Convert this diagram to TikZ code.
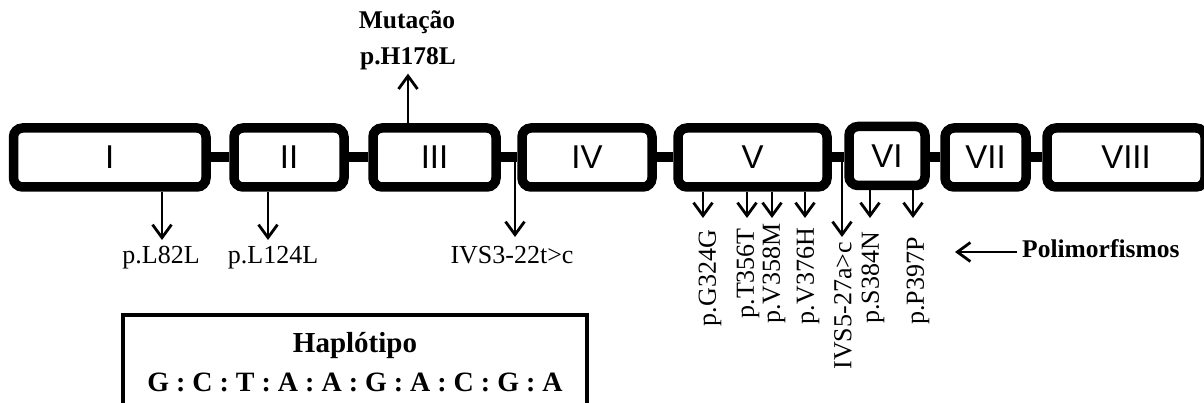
\documentclass[tikz,border=0pt]{standalone}
\usepackage{fontspec}
\setmainfont{Liberation Serif}
\newfontfamily\exonfont{Liberation Sans}
\usetikzlibrary{arrows.meta}
\begin{document}
\begin{tikzpicture}[x=1pt,y=-1pt,
  exon/.style={draw, line width=9.5pt, rounded corners=9pt, minimum height=59pt, inner sep=0pt,
    font=\exonfont\fontsize{33}{33}\selectfont},
  conn/.style={line width=10pt},
  arr/.style={line width=2.8pt, -{Straight Barb[length=13pt,width=19pt]}},
  lab/.style={inner sep=0pt, font=\fontsize{26}{26}\selectfont},
  vlab/.style={lab, rotate=90, anchor=east},
  blab/.style={inner sep=0pt}]
\useasboundingbox (0,0) rectangle (1204,403);
\fill[white] (0,0) rectangle (1204,403);
\clip (0,0) rectangle (1204,403);

% exons
\node[exon, minimum width=192.5pt] (b1) at (109.75,157.5) {I};
\node[exon, minimum width=110pt] (b2) at (289,157.5) {II};
\node[exon, minimum width=123pt] (b3) at (434.5,157.5) {III};
\node[exon, minimum width=130pt] (b4) at (587,157.5) {IV};
\node[exon, minimum width=149pt] (b5) at (752.5,157.5) {V};
\node[exon, minimum width=76pt] (b6) at (887,156) {VI};
\node[exon, minimum width=81pt] (b7) at (985.5,157.5) {VII};
\node[exon, minimum width=158pt] (b8) at (1126,157.5) {VIII};

% introns
\draw[conn] (b1.east) -- (b2.west);
\draw[conn] (b2.east) -- (b3.west);
\draw[conn] (b3.east) -- (b4.west);
\draw[conn] (b4.east) -- (b5.west);
\draw[conn] (b5.east) -- (b6.west |- b5.east);
\draw[conn] (b6.east |- b7.west) -- (b7.west);
\draw[conn] (b7.east) -- (b8.west);

% mutation
\node[blab, anchor=base, font=\bfseries\fontsize{25.5}{25.5}\selectfont] (mut1) at (407,29) {Mutação};
\node[blab, anchor=base, font=\bfseries\fontsize{25.5}{25.5}\selectfont] (mut) at (408,65) {p.H178L};
\draw[arr] (mut.south |- b3.north) -- ([yshift=-3pt]mut.south);

% horizontal labels
\node[lab, anchor=base] (l1) at (161,264) {p.L82L};
\node[lab, anchor=base] (l2) at (273,264) {p.L124L};
\node[lab, anchor=base] (l3) at (512,264) {IVS3-22t>c};
\coordinate (t1) at (162,240);
\coordinate (t2) at (268,240);
\coordinate (t3) at (515,237);
\draw[arr] (t1 |- b1.south) -- (t1);
\draw[arr] (t2 |- b2.south) -- (t2);
\draw[arr] (t3 |- b3.center) -- (t3);

% vertical labels
\node[vlab] (v1) at (710,230) {p.G324G};
\node[vlab] (v2) at (748,228) {p.T356T};
\node[vlab] (v3) at (774,223) {p.V358M};
\node[vlab] (v4) at (808,228) {p.V376H};
\node[vlab] (v5) at (843,242) {IVS5-27a>c};
\node[vlab] (v6) at (873,232) {p.S384N};
\node[vlab] (v7) at (918,237) {p.P397P};
\coordinate (u1) at (703,218);
\coordinate (u2) at (747,218);
\coordinate (u3) at (772,218);
\coordinate (u4) at (805,218);
\coordinate (u5) at (842,237);
\coordinate (u6) at (870,218);
\coordinate (u7) at (913,218);
\draw[arr] (u1 |- b5.south) -- (u1);
\draw[arr] (u2 |- b5.south) -- (u2);
\draw[arr] (u3 |- b5.south) -- (u3);
\draw[arr] (u4 |- b5.south) -- (u4);
\draw[arr] (u5 |- b5.center) -- (u5);
\draw[arr] (u6 |- b6.south) -- (u6);
\draw[arr] (u7 |- b6.south) -- (u7);

% polymorphisms
\node[blab, anchor=base west, font=\bfseries\fontsize{25.5}{25.5}\selectfont] (pol) at (1022,258) {Polimorfismos};
\coordinate (pt) at (955,252);
\draw[arr] ([xshift=-5pt]pol.west |- pt) -- (pt);

% haplotype box
\node[draw, line width=4.5pt, minimum width=464pt, minimum height=94pt, anchor=north west,
  inner sep=0pt, align=center, font=\bfseries\fontsize{29}{39}\selectfont] (hap) at (120.75,312.75)
  {Haplótipo\\{\fontsize{28}{39}\selectfont G : C : T : A : A : G : A : C : G : A}};
\end{tikzpicture}
\end{document}
